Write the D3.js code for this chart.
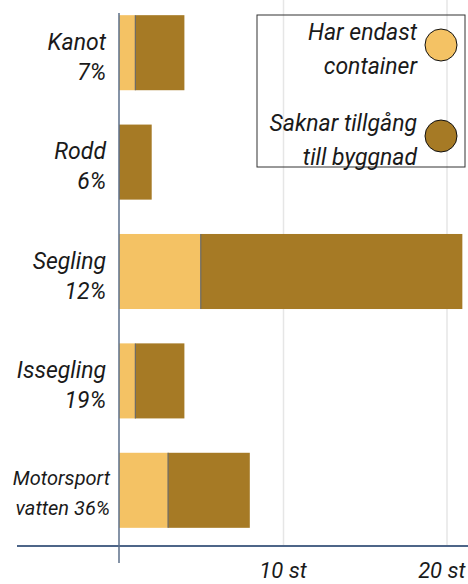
<!DOCTYPE html>
<html>
<head>
<meta charset="utf-8" />
<title>Båtklubbar</title>
<script src="https://cdn.jsdelivr.net/npm/d3@7"></script>
<style>
  body { margin: 0; background: #fff; }
  text { font-family: Roboto, "Noto Sans", sans-serif; font-style: italic; fill: #1a1a1a; }
</style>
</head>
<body>
<script>
// data
var categories = [["Kanot", "7%"], ["Rodd", "6%"], ["Segling", "12%"], ["Issegling", "19%"], ["Motorsport", "vatten 36%"]];
var containerOnly = [1, 0, 5, 1, 3];
var noBuilding = [3, 2, 16, 3, 5];
var seriesNames = [["Har endast", "container"], ["Saknar tillgång", "till byggnad"]];
var tickValues = [10, 20];

var width = 468, height = 584;
var colors = ["#f4c264", "#a67a25"];

var svg = d3.select("body").append("svg")
  .attr("width", width)
  .attr("height", height);

var x = d3.scaleLinear().domain([0, 20]).range([119, 446]);
var y = d3.scaleBand()
  .domain(categories.map(function (d) { return d[0]; }))
  .range([-2, 545])
  .paddingInner(0.314)
  .paddingOuter(0.157);

// grid
svg.append("g").selectAll("line")
  .data(tickValues)
  .enter().append("line")
  .attr("x1", function (d) { return x(d) + 1; })
  .attr("x2", function (d) { return x(d) + 1; })
  .attr("y1", 0).attr("y2", 546)
  .attr("stroke", "#e6e6e6").attr("stroke-width", 1.5);

// stacked bars
var rows = categories.map(function (c, i) {
  return { name: c[0], a: containerOnly[i], b: noBuilding[i] };
});
var bars = svg.append("g");
bars.selectAll("rect.a")
  .data(rows).enter().append("rect")
  .attr("class", "a")
  .attr("x", x(0))
  .attr("y", function (d) { return y(d.name); })
  .attr("width", function (d) { return x(d.a) - x(0); })
  .attr("height", y.bandwidth())
  .attr("fill", colors[0]);
bars.selectAll("rect.b")
  .data(rows).enter().append("rect")
  .attr("class", "b")
  .attr("x", function (d) { return x(d.a); })
  .attr("y", function (d) { return y(d.name); })
  .attr("width", function (d) { return x(d.a + d.b) - x(d.a); })
  .attr("height", y.bandwidth())
  .attr("fill", colors[1]);
bars.selectAll("line.sep")
  .data(rows.filter(function (d) { return d.a > 0; })).enter().append("line")
  .attr("class", "sep")
  .attr("x1", function (d) { return x(d.a); })
  .attr("x2", function (d) { return x(d.a); })
  .attr("y1", function (d) { return y(d.name); })
  .attr("y2", function (d) { return y(d.name) + y.bandwidth(); })
  .attr("stroke", "#6b6a66").attr("stroke-width", 1.2);

// category labels
var labels = svg.append("g");
labels.selectAll("text")
  .data(categories).enter().append("text")
  .attr("text-anchor", "end")
  .attr("x", function (d, i) { return i === 4 ? 110 : 106; })
  .attr("y", function (d) { return y(d[0]) + y.bandwidth() / 2; })
  .style("font-size", function (d, i) { return i === 4 ? "20px" : "23px"; })
  .each(function (d, i) {
    var t = d3.select(this);
    t.append("tspan").attr("x", t.attr("x")).attr("dy", i === 4 ? "-5" : "-3").text(d[0]);
    t.append("tspan").attr("x", t.attr("x")).attr("dy", "30").text(d[1]);
  });

// axes
svg.append("line")
  .attr("x1", 17).attr("x2", width)
  .attr("y1", 546).attr("y2", 546)
  .attr("stroke", "#4d6588").attr("stroke-width", 2);
svg.append("line")
  .attr("x1", x(0)).attr("x2", x(0))
  .attr("y1", 13).attr("y2", 563)
  .attr("stroke", "#5d6f8a").attr("stroke-width", 1.5);

var xAxis = svg.append("g")
  .attr("transform", "translate(0,546)")
  .call(d3.axisBottom(x).tickValues(tickValues).tickSize(0)
    .tickFormat(function (d) { return d + " st"; }));
xAxis.select(".domain").remove();
xAxis.attr("font-family", null).attr("font-size", null);
xAxis.selectAll("text")
  .attr("y", 32).attr("dy", null)
  .style("font-size", "22px")
  .attr("fill", "#1a1a1a");
xAxis.selectAll(".tick").filter(function (d) { return d === 20; })
  .select("text").attr("text-anchor", "end").attr("x", 465 - x(20));

// legend
var legend = svg.append("g");
legend.append("rect")
  .attr("x", 257).attr("y", 15)
  .attr("width", 208).attr("height", 152)
  .attr("fill", "none").attr("stroke", "#333").attr("stroke-width", 1);
var items = legend.selectAll("g.item")
  .data(seriesNames).enter().append("g")
  .attr("class", "item")
  .attr("transform", function (d, i) { return "translate(0," + (i * 91) + ")"; });
items.append("circle")
  .attr("cx", 441).attr("cy", 45).attr("r", 16)
  .attr("fill", function (d, i) { return colors[i]; })
  .attr("stroke", "#111").attr("stroke-width", 1);
items.append("text")
  .attr("text-anchor", "end")
  .attr("x", 417)
  .style("font-size", "23px")
  .each(function (d) {
    var t = d3.select(this);
    t.append("tspan").attr("x", 417).attr("y", 40).text(d[0]);
    t.append("tspan").attr("x", 417).attr("y", 74).text(d[1]);
  });
</script>
</body>
</html>
